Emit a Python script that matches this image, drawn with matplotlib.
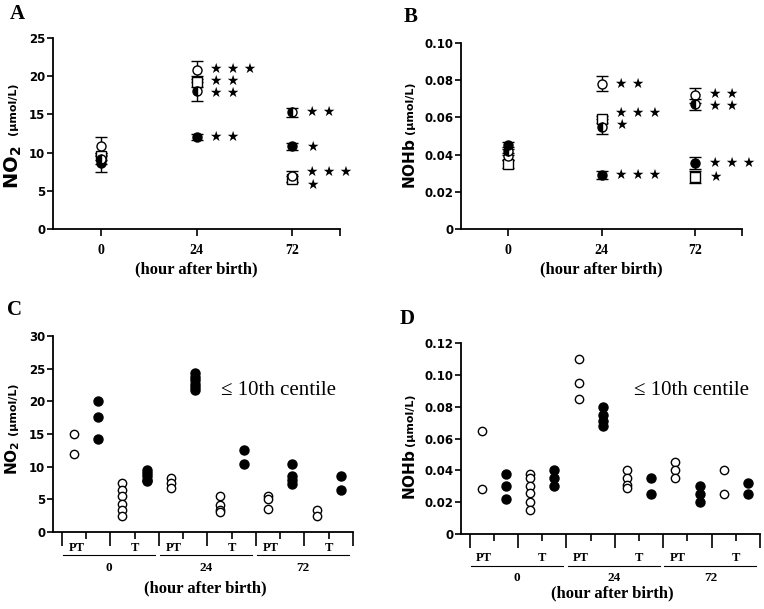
import matplotlib
matplotlib.use("Agg")
import matplotlib.pyplot as plt
from matplotlib.transforms import offset_copy

hours = ["0", "24", "72"]

# panel A: NO2, mean and SEM for the four groups
a_open = [10.8, 20.8, 6.9]
a_open_err = [1.2, 1.2, 0.7]
a_half = [9.1, 18.0, 15.3]
a_half_err = [0.6, 1.2, 0.6]
a_fill = [8.7, 12.0, 10.8]
a_fill_err = [1.2, 0.4, 0.5]
a_sq = [9.5, 19.3, 6.6]
a_sq_err = [0.5, 0.7, 0.4]
a_open_stars = ["", "★ ★ ★", ""]
a_half_stars = ["", "★ ★", "★ ★"]
a_fill_stars = ["", "★ ★", "★"]
a_sq_stars = ["", "★ ★", "★ ★ ★\n★"]

# panel B: NOHb
b_open = [0.039, 0.078, 0.072]
b_open_err = [0.002, 0.004, 0.004]
b_half = [0.042, 0.055, 0.067]
b_half_err = [0.002, 0.004, 0.003]
b_fill = [0.045, 0.029, 0.0355]
b_fill_err = [0.002, 0.002, 0.003]
b_sq = [0.035, 0.059, 0.028]
b_sq_err = [0.002, 0.002, 0.003]
b_open_stars = ["", "★ ★", "★ ★"]
b_half_stars = ["", "", "★ ★"]
b_fill_stars = ["", "★ ★ ★", "★ ★ ★"]
b_sq_stars = ["", "★ ★ ★\n★", "★"]

# panels C and D: individual values, columns PT normal, PT <=10th, T normal, T <=10th per hour
col_filled = [False, True, False, True] * 3
c_cols = [
    [15.0, 12.0], [20.0, 17.6, 14.2], [7.5, 6.5, 5.5, 4.3, 3.4, 2.4], [9.5, 9.0, 8.5, 8.0, 7.8],
    [8.3, 7.5, 6.8], [24.3, 23.7, 23.2, 22.7, 22.2, 21.8], [5.5, 4.2, 3.3, 3.0], [12.5, 10.4],
    [5.5, 5.0, 3.5], [10.4, 8.5, 8.0, 7.4], [3.3, 2.5], [8.5, 6.5],
]
d_cols = [
    [0.065, 0.028], [0.038, 0.030, 0.022], [0.038, 0.035, 0.030, 0.026, 0.020, 0.015], [0.040, 0.035, 0.030],
    [0.110, 0.095, 0.085], [0.080, 0.075, 0.071, 0.068], [0.040, 0.035, 0.031, 0.029], [0.035, 0.025],
    [0.045, 0.040, 0.035], [0.030, 0.025, 0.020], [0.040, 0.025], [0.032, 0.025],
]
subgroups = ["PT", "T"]

a_yticks = [0, 5, 10, 15, 20, 25]
b_yticks = [0, 0.02, 0.04, 0.06, 0.08, 0.10]
b_ylabels = ["0", "0.02", "0.04", "0.06", "0.08", "0.10"]
c_yticks = [0, 5, 10, 15, 20, 25, 30]
d_yticks = [0, 0.02, 0.04, 0.06, 0.08, 0.10, 0.12]
d_ylabels = ["0", "0.02", "0.04", "0.06", "0.08", "0.10", "0.12"]

SERIF = "Liberation Serif"
SANS = "DejaVu Sans"
W, H = 764, 609
fig = plt.figure(figsize=(W / 100, H / 100), dpi=100)


def add_axes(l, t, r, b):
    return fig.add_axes([l / W, 1 - b / H, (r - l) / W, (b - t) / H])


def style(ax, yticks, ylabels, ylim):
    for s in ["top", "right"]:
        ax.spines[s].set_visible(False)
    for s in ["left", "bottom"]:
        ax.spines[s].set_linewidth(1.3)
    ax.set_ylim(*ylim)
    ax.set_yticks(yticks)
    ax.set_yticklabels(ylabels, family=SANS, weight="bold", size=8.5)
    ax.tick_params(axis="y", length=4, width=1.2, pad=1.5)


def ylab(ax, main, x, y_main, y_unit, size):
    ax.text(x, y_main, main, rotation=90, ha="center", va="center",
            transform=ax.transAxes, size=size)
    ax.text(x, y_unit, "(µmol/L)", rotation=90, ha="center", va="center",
            transform=ax.transAxes, family=SANS, weight="bold", size=8)


def draw_stars(ax, entries):
    # rows of stars that sit closer than ~13 px are stacked into one text block
    for xi in sorted(set(e[0] for e in entries)):
        items = sorted([e for e in entries if e[0] == xi], key=lambda e: -e[1])
        groups = []
        for it in items:
            if groups:
                prev = groups[-1][-1]
                dpx = ax.transData.transform((0, prev[1]))[1] - ax.transData.transform((0, it[1]))[1]
                if dpx < 13:
                    groups[-1].append(it)
                    continue
            groups.append([it])
        for grp in groups:
            ym = sum(g[1] for g in grp) / len(grp)
            txt = "\n".join(g[2] for g in grp)
            ax.annotate(txt, (xi, ym), xytext=(10, 0), textcoords="offset points",
                        ha="left", va="center", family=SANS, size=10, linespacing=0.85)


def summary_panel(ax, series, yticks, ylabels, ylim):
    style(ax, yticks, ylabels, ylim)
    x = list(range(len(hours)))
    entries = []
    for vals, err, marker, kind, stars in series:
        kw = dict(mec="black", mfc="white")
        if kind == "fill":
            kw["mfc"] = "black"
        elif kind == "half":
            kw.update(mfc="black", mfcalt="white", fillstyle="left")
        ax.errorbar(x, vals, yerr=err, fmt=marker, ms=6.5, ecolor="black",
                    elinewidth=1, capsize=4, capthick=1, **kw)
        entries += [(i, vals[i], s) for i, s in enumerate(stars) if s]
    ax.set_xlim(-0.5, 2.5)
    draw_stars(ax, entries)
    ax.set_xticks(x)
    ax.set_xticklabels(hours, family=SERIF, weight="bold", size=10)
    ax.set_xticks([2.5], minor=True)
    ax.tick_params(axis="x", which="both", length=5, width=1.2, pad=6)
    ax.set_xlabel("(hour after birth)", family=SERIF, weight="bold", size=12, labelpad=3)


def dot_panel(ax, cols, yticks, ylabels, ylim, offs):
    style(ax, yticks, ylabels, ylim)
    for i, vals in enumerate(cols):
        face = "black" if col_filled[i] else "white"
        ax.plot([i] * len(vals), vals, "o", ms=6.5 if col_filled[i] else 6,
                mfc=face, mec="black", mew=1, clip_on=False)
    ax.set_xlim(-0.86, 11.5)
    ax.set_xticks([-0.5 + 2 * k for k in range(7)])
    ax.set_xticklabels([])
    ax.set_xticks([0.5 + 2 * k for k in range(6)], minor=True)
    ax.tick_params(axis="x", which="major", length=10, width=1.2)
    ax.tick_params(axis="x", which="minor", length=5, width=1.2)

    def tr(dy):
        return offset_copy(ax.get_xaxis_transform(), fig=fig, x=0, y=-dy, units="dots")

    pt_off, line_off, grp_off, xl_off = offs
    for g, h in enumerate(hours):
        base = 4 * g
        ax.text(base + 0.1, 0, subgroups[0], transform=tr(pt_off), ha="center", va="center",
                family=SERIF, weight="bold", size=9)
        ax.text(base + 2.5, 0, subgroups[1], transform=tr(pt_off), ha="center", va="center",
                family=SERIF, weight="bold", size=9)
        ax.plot([base - 0.45, base + 3.35], [0, 0], transform=tr(line_off),
                color="black", lw=0.8, clip_on=False)
        ax.text(base + 1.45, 0, h, transform=tr(grp_off), ha="center", va="center",
                family=SERIF, weight="bold", size=9.5)
    ax.text(5.4, 0, "(hour after birth)", transform=tr(xl_off), ha="center", va="center",
            family=SERIF, weight="bold", size=12)


axA = add_axes(53, 38, 340, 229)
axB = add_axes(461, 43, 742, 229)
axC = add_axes(53, 336, 353, 532)
axD = add_axes(461, 343, 760, 534)

# squares first so the circles sit on top of them
summary_panel(axA, [
    (a_sq, a_sq_err, "s", "open", a_sq_stars),
    (a_fill, a_fill_err, "o", "fill", a_fill_stars),
    (a_half, a_half_err, "o", "half", a_half_stars),
    (a_open, a_open_err, "o", "open", a_open_stars),
], a_yticks, [str(v) for v in a_yticks], (0, 25))

summary_panel(axB, [
    (b_sq, b_sq_err, "s", "open", b_sq_stars),
    (b_open, b_open_err, "o", "open", b_open_stars),
    (b_half, b_half_err, "o", "half", b_half_stars),
    (b_fill, b_fill_err, "o", "fill", b_fill_stars),
], b_yticks, b_ylabels, (0, 0.10))

dot_panel(axC, c_cols, c_yticks, [str(v) for v in c_yticks], (0, 30), (16, 23, 36, 56))
dot_panel(axD, d_cols, d_yticks, d_ylabels, (0, 0.12), (24, 32, 44, 59))

for ax, x, y in [(axC, 0.56, 0.72), (axD, 0.58, 0.75)]:
    ax.text(x, y, "≤ 10th centile", transform=ax.transAxes, family=SERIF, size=15,
            ha="left", va="center")

ylab(axA, r"$\mathbf{NO_2}$", -0.139, 0.325, 0.63, 14)
ylab(axB, r"$\mathbf{NOHb}$", -0.181, 0.35, 0.65, 11)
ylab(axC, r"$\mathbf{NO_2}$", -0.133, 0.38, 0.63, 11)
ylab(axD, r"$\mathbf{NOHb}$", -0.17, 0.31, 0.60, 11)

for letter, px, py in [("A", 17, 14), ("B", 411, 17), ("C", 15, 310), ("D", 407, 319)]:
    fig.text(px / W, 1 - py / H, letter, family=SERIF, weight="bold", size=15,
             ha="center", va="center")

fig.savefig("out.png", dpi=100)
